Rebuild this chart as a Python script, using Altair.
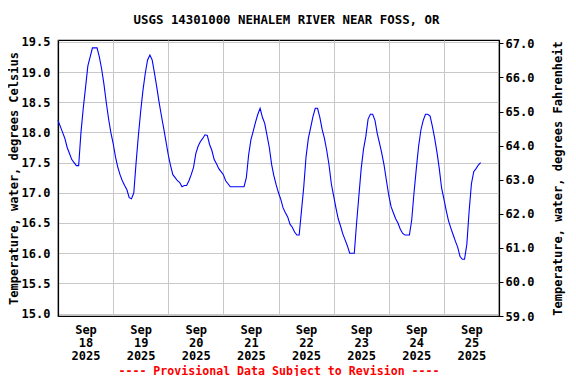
import altair as alt
import pandas as pd

# Hourly water temperature (deg C), starting Sep 18 2025 00:00
sep18 = [18.2, 18.1, 18.0, 17.9, 17.75, 17.65, 17.55, 17.5, 17.45, 17.45, 18.0, 18.4,
         18.75, 19.1, 19.25, 19.4, 19.4, 19.4, 19.25, 19.05, 18.8, 18.5, 18.23, 18.0]
sep19 = [17.82, 17.6, 17.43, 17.3, 17.2, 17.12, 17.05, 16.92, 16.9, 17.0, 17.5, 17.95,
         18.35, 18.7, 18.98, 19.2, 19.28, 19.2, 18.98, 18.75, 18.5, 18.28, 18.07, 17.85]
sep20 = [17.63, 17.45, 17.3, 17.25, 17.2, 17.17, 17.1, 17.12, 17.12, 17.2, 17.3, 17.42,
         17.65, 17.77, 17.85, 17.9, 17.96, 17.95, 17.8, 17.7, 17.55, 17.48, 17.4, 17.35]
sep21 = [17.3, 17.2, 17.15, 17.1, 17.1, 17.1, 17.1, 17.1, 17.1, 17.1, 17.25, 17.63,
         17.88, 18.02, 18.17, 18.3, 18.4, 18.25, 18.15, 17.95, 17.75, 17.47, 17.28, 17.13]
sep22 = [17.0, 16.89, 16.75, 16.67, 16.6, 16.48, 16.43, 16.35, 16.3, 16.3, 16.7, 17.1,
         17.6, 17.9, 18.08, 18.26, 18.4, 18.4, 18.25, 18.05, 17.9, 17.7, 17.46, 17.15]
sep23 = [16.95, 16.75, 16.57, 16.45, 16.32, 16.22, 16.12, 16.0, 16.0, 16.0, 16.5, 16.95,
         17.4, 17.72, 17.93, 18.22, 18.3, 18.3, 18.2, 17.98, 17.82, 17.65, 17.45, 17.2]
sep24 = [16.96, 16.77, 16.67, 16.57, 16.5, 16.4, 16.33, 16.3, 16.3, 16.3, 16.55, 17.0,
         17.4, 17.77, 18.04, 18.2, 18.3, 18.3, 18.27, 18.1, 17.9, 17.67, 17.4, 17.08]
sep25 = [16.9, 16.71, 16.54, 16.42, 16.31, 16.2, 16.1, 15.95, 15.9, 15.9, 16.15, 16.7,
         17.15, 17.35, 17.4, 17.46, 17.5]

celsius_ticks = [15.0, 15.5, 16.0, 16.5, 17.0, 17.5, 18.0, 18.5, 19.0, 19.5]
fahrenheit_ticks = [59.0, 60.0, 61.0, 62.0, 63.0, 64.0, 65.0, 66.0, 67.0]
day_ticks = list(range(18, 26))

temps_c = sep18 + sep19 + sep20 + sep21 + sep22 + sep23 + sep24 + sep25
times = pd.date_range("2025-09-18 00:00", periods=len(temps_c), freq="h")
df = pd.DataFrame({"time": times, "temp_c": temps_c})
df["temp_f"] = df["temp_c"] * 1.8 + 32

FONT = "DejaVu Sans Mono"

x_enc = alt.X(
    "time:T",
    scale=alt.Scale(domain=[alt.DateTime(year=2025, month=9, date=18),
                            alt.DateTime(year=2025, month=9, date=26)]),
    title="---- Provisional Data Subject to Revision ----",
    axis=alt.Axis(
        values=[alt.DateTime(year=2025, month=9, date=d) for d in day_ticks],
        labelExpr="[timeFormat(datum.value, '%b'), timeFormat(datum.value, '%d'), timeFormat(datum.value, '%Y')]",
        labelOffset=27.5, labelLineHeight=13, labelPadding=8,
        labelFlush=False, labelOverlap=False, ticks=False, grid=True,
        titleColor="#ff0000", titlePadding=4, titleFontSize=11.6,
    ),
)

c_line = alt.Chart(df).mark_line(color="#0000ff", strokeWidth=1.1).encode(
    x=x_enc,
    y=alt.Y("temp_c:Q",
            scale=alt.Scale(domain=[14.96, 19.53], nice=False, zero=False),
            title="Temperature, water, degrees Celsius",
            axis=alt.Axis(values=celsius_ticks, format=".1f", ticks=False,
                          labelPadding=8, grid=True, titlePadding=1)),
)

f_line = alt.Chart(df).mark_line(strokeOpacity=0).encode(
    x=x_enc,
    y=alt.Y("temp_f:Q",
            scale=alt.Scale(domain=[59.0, 67.1], nice=False, zero=False),
            title="Temperature, water, degrees Fahrenheit",
            axis=alt.Axis(orient="right", values=fahrenheit_ticks, format=".1f",
                          ticks=True, tickSize=4, labelPadding=2, grid=False,
                          titleAngle=270, titlePadding=31)),
)

chart = alt.layer(c_line, f_line).resolve_scale(y="independent").properties(
    width=441, height=276,
    padding={"left": 50, "top": 32, "right": 69, "bottom": 60},
    autosize=alt.AutoSizeParams(type="none"),
    title=alt.TitleParams("USGS 14301000 NEHALEM RIVER NEAR FOSS, OR",
                          font=FONT, fontSize=12.4, fontWeight="bold",
                          anchor="middle", offset=9, dx=8, color="black"),
).configure_view(
    stroke="black", strokeWidth=1.2
).configure_axis(
    domainColor="black", domainWidth=1.2, tickColor="black",
    gridColor="#c8c8c8", gridWidth=1,
    labelFont=FONT, labelFontSize=12, labelFontWeight="bold", labelColor="black",
    titleFont=FONT, titleFontSize=12, titleFontWeight="bold", titleColor="black",
)

chart.save("out.html", embed_options={"renderer": "svg", "actions": False})
